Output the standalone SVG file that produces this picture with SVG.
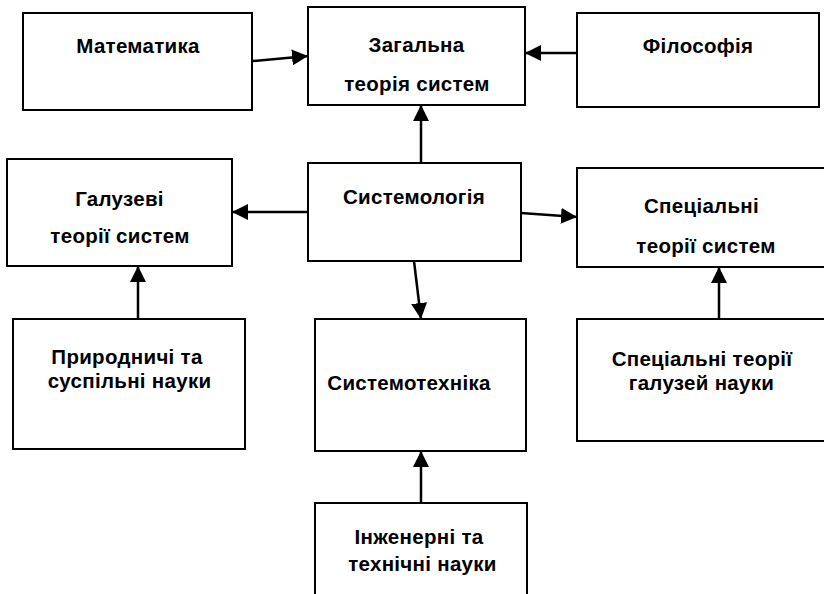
<svg xmlns="http://www.w3.org/2000/svg" width="824" height="594" viewBox="0 0 824 594">
<defs>
<style>
.box{fill:#fff;stroke:#000;stroke-width:2}
.lbl{font-family:"Liberation Sans",Arial,sans-serif;font-weight:bold;font-size:20.5px;letter-spacing:0.3px;fill:#000;text-anchor:middle}
.edge{stroke:#000;stroke-width:2.5;fill:none;marker-end:url(#ah)}
</style>
<marker id="ah" markerUnits="userSpaceOnUse" markerWidth="16" markerHeight="16" refX="16" refY="8" orient="auto">
<path d="M0,0 L16,8 L0,16 z" fill="#000"/>
</marker>
</defs>
<rect width="824" height="594" fill="#fff"/>
<g id="matematyka"><rect class="box" x="23" y="13" width="229" height="97"/><text class="lbl" x="138" y="53">Математика</text></g>
<g id="zahalna"><rect class="box" x="308" y="7" width="217" height="98"/><text class="lbl" x="416.5" y="52">Загальна</text><text class="lbl" x="417" y="91">теорія систем</text></g>
<g id="filosofiya"><rect class="box" x="577" y="13" width="242" height="94"/><text class="lbl" x="698" y="53">Філософія</text></g>
<g id="haluzevi"><rect class="box" x="7" y="159" width="225" height="107"/><text class="lbl" x="119.5" y="206">Галузеві</text><text class="lbl" x="120" y="243">теорії систем</text></g>
<g id="systemolohiya"><rect class="box" x="308" y="163" width="213" height="98"/><text class="lbl" x="414" y="204">Системологія</text></g>
<g id="spetsialni"><rect class="box" x="577" y="168" width="260" height="99"/><text class="lbl" x="701.5" y="213">Спеціальні</text><text class="lbl" x="706" y="253">теорії систем</text></g>
<g id="pryrodnychi"><rect class="box" x="13" y="319" width="232" height="130"/><text class="lbl" x="127" y="364">Природничі та</text><text class="lbl" x="129.5" y="388">суспільні науки</text></g>
<g id="systemotekhnika"><rect class="box" x="315" y="319" width="211" height="132"/><text class="lbl" x="409" y="390">Системотехніка</text></g>
<g id="spets-haluzey"><rect class="box" x="577" y="319" width="260" height="122"/><text class="lbl" x="702" y="366">Спеціальні теорії</text><text class="lbl" x="701.5" y="390">галузей науки</text></g>
<g id="inzhenerni"><rect class="box" x="315" y="503" width="212" height="100"/><text class="lbl" x="419" y="544">Інженерні та</text><text class="lbl" x="422.5" y="571">технічні науки</text></g>
<g id="connectors">
<line class="edge" x1="253" y1="61" x2="308" y2="56"/>
<line class="edge" x1="577" y1="53" x2="525" y2="53"/>
<line class="edge" x1="421" y1="163" x2="421" y2="105"/>
<line class="edge" x1="308" y1="212" x2="232" y2="212"/>
<line class="edge" x1="521" y1="213" x2="577" y2="217"/>
<line class="edge" x1="414" y1="261" x2="421" y2="319"/>
<line class="edge" x1="138" y1="319" x2="138" y2="266"/>
<line class="edge" x1="421" y1="503" x2="421" y2="451"/>
<line class="edge" x1="719" y1="319" x2="719" y2="267"/>
</g>
</svg>
